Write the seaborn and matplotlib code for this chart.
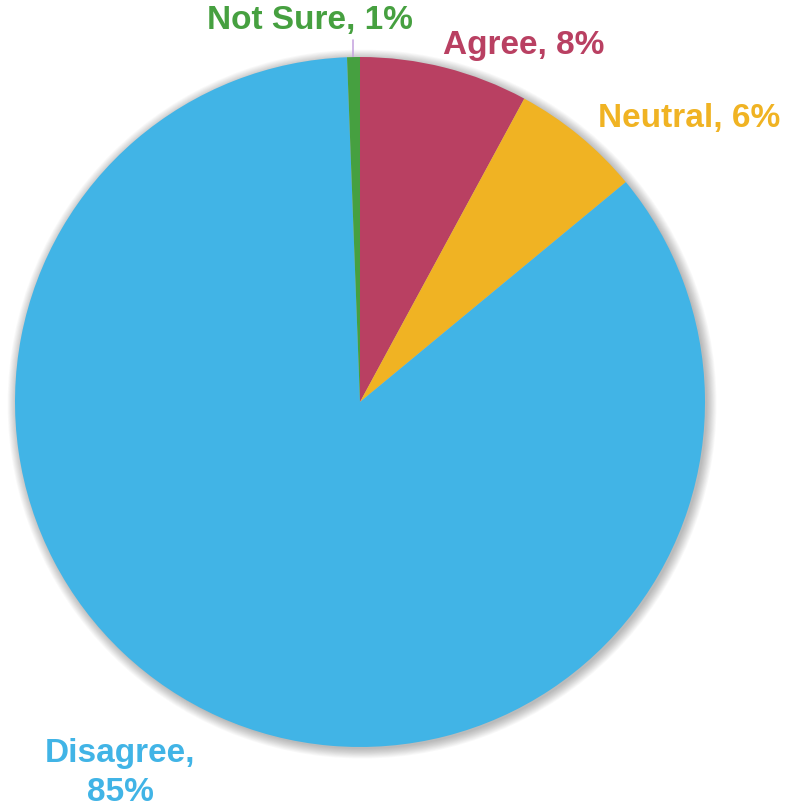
import matplotlib
matplotlib.use("Agg")
import matplotlib.pyplot as plt
import seaborn as sns
from matplotlib.patches import Circle

sns.set_theme(style="white")
plt.rcParams['font.family'] = ['Liberation Sans', 'DejaVu Sans']

categories = ["Agree", "Neutral", "Disagree", "Not Sure"]
values = [7.9, 6.1, 85.4, 0.6]
label_texts = ["Agree, 8%", "Neutral, 6%", "Disagree,\n85%", "Not Sure, 1%"]
colors = sns.color_palette(["#B94062", "#F0B323", "#41B4E6", "#46A040"])

W, H = 792, 811
cx, cy, R = 360, 402, 345
fig = plt.figure(figsize=(W / 100, H / 100), dpi=100)
ax = fig.add_axes([(cx - R) / W, (H - cy - R) / H, 2 * R / W, 2 * R / H])

# soft shadow
for i in range(12):
    ax.add_patch(Circle((0.006, -0.006), 1.0 + i * 0.0025, color="black",
                        alpha=0.022, lw=0, zorder=0, clip_on=False))

ax.pie(values, colors=colors, startangle=90, counterclock=False, radius=1,
       wedgeprops=dict(linewidth=0, zorder=2))
ax.set_xlim(-1, 1)
ax.set_ylim(-1, 1)
ax.set_aspect("equal")
ax.axis("off")

def px(x, y):
    return ((x - cx) / R, (cy - y) / R)

label_pos = [px(524, 45), px(689, 118), px(120, 773), px(310, 20)]
for txt, col, (x, y) in zip(label_texts, colors, label_pos):
    ax.text(x, y, txt, color=col, fontsize=24, fontweight="bold",
            ha="center", va="center", linespacing=1.3, clip_on=False, zorder=5)

# leader line for Not Sure
x0, y0 = px(353, 40)
x1, y1 = px(353, 57)
ax.plot([x0, x1], [y0, y1], color="#C8A8E0", lw=1.2, clip_on=False, zorder=1)

fig.savefig("out.png", dpi=100, facecolor="white")
